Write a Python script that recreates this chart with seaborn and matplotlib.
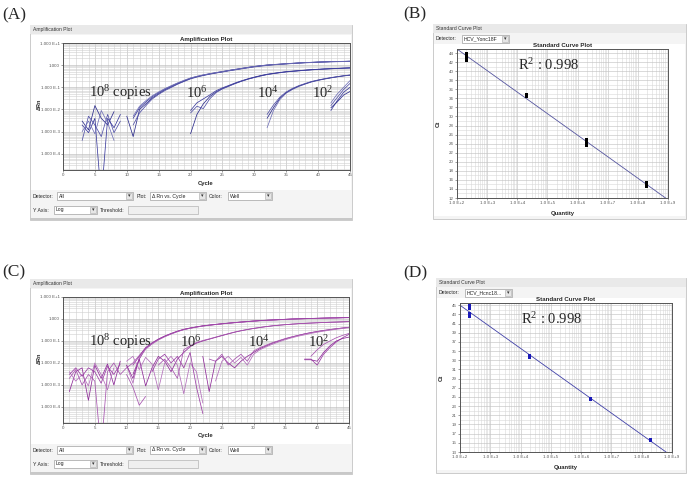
import numpy as np
import pandas as pd
import matplotlib
matplotlib.use("Agg")
import matplotlib.pyplot as plt
from matplotlib.patches import Rectangle
from matplotlib.ticker import MultipleLocator, LogLocator, NullFormatter
import seaborn as sns

nan = np.nan

# ---------------- (A) amplification plot, delta Rn per cycle ----------------
a8_r1 = [0.003, 0.0012, 0.015, 0.004, 0.002, 0.008, nan, 0.005, 0.0006, 0.01, 0.018, 0.033, 0.052, 0.078,
         0.105, 0.145, 0.19, 0.25, 0.3, 0.35, 0.4, 0.45, 0.5, 0.57, 0.63, 0.7, 0.78, 0.86, 0.93, 1.0, 1.05,
         1.1, 1.15, 1.2, 1.25, 1.3, 1.33, 1.37, 1.4, 1.43, 1.45, 1.47, 1.5]
a8_r2 = [0.0004, 0.005, 0.002, 0.0006, 0.006, 0.0009, 0.003, nan, 0.002, 0.007, 0.015, 0.03, 0.048, 0.072,
         0.1, 0.14, 0.185, 0.24, 0.29, 0.34, 0.39, 0.44, 0.49, 0.55, 0.61, 0.68, 0.75, 0.83, 0.9, 0.97, 1.03,
         1.08, 1.13, 1.18, 1.23, 1.27, 1.31, 1.35, 1.38, 1.41, 1.43, 1.45, 1.47]
a8_r3 = [0.002, 0.0009, 0.004, 1e-6, 0.004, 0.0015, 0.006, nan, 0.004, 0.012, 0.022, 0.038, 0.058, 0.085,
         0.115, 0.155, 0.2, 0.26, 0.31, 0.36, 0.41, 0.46, 0.52, 0.58, 0.65, 0.72, 0.8, 0.88, 0.95, 1.02, 1.07,
         1.12, 1.17, 1.22, 1.27, 1.31, 1.35, 1.39, 1.42, 1.45, 1.47, 1.49, 1.52]
a8_r4 = [0.001, 0.003, 0.0008, 0.009, 0.0025, 0.0004, nan, nan, 0.005, 0.014, 0.025, 0.042, 0.062, 0.088,
         0.12, 0.16, 0.21, 0.265, 0.315, 0.365, 0.415, 0.465, 0.515, 0.575, 0.64, 0.71, 0.79, 0.87, 0.94, 1.01,
         1.06, 1.11, 1.16, 1.21, 1.26, 1.3, 1.34, 1.38, 1.41, 1.44, 1.46, 1.48, 1.5]
a6_r1 = [0.0008, 0.006, 0.018, 0.038, 0.062, 0.088, 0.115, 0.15, 0.19, 0.235, 0.28, 0.33, 0.38, 0.42, 0.46,
         0.5, 0.53, 0.56, 0.59, 0.62, 0.645, 0.67, 0.69, 0.71, 0.73, 0.75]
a6_r2 = [0.007, 0.014, 0.011, 0.03, 0.058, 0.085, 0.112, 0.148, 0.188, 0.232, 0.278, 0.325, 0.375, 0.415,
         0.455, 0.495, 0.525, 0.555, 0.585, 0.615, 0.64, 0.665, 0.685, 0.705, 0.725, 0.745]
a6_r3 = [0.009, 0.02, 0.03, 0.045, 0.07, 0.095, 0.122, 0.158, 0.198, 0.243, 0.29, 0.34, 0.39, 0.43, 0.47,
         0.51, 0.54, 0.57, 0.6, 0.63, 0.655, 0.68, 0.7, 0.72, 0.74, 0.76]
a4_r1 = [0.0015, 0.009, 0.028, 0.055, 0.08, 0.11, 0.14, 0.175, 0.205, 0.235, 0.265, 0.295, 0.325, 0.35]
a4_r2 = [0.004, 0.012, 0.032, 0.058, 0.085, 0.115, 0.145, 0.18, 0.21, 0.24, 0.27, 0.3, 0.33, 0.355]
a4_r3 = [0.006, 0.016, 0.036, 0.062, 0.09, 0.12, 0.15, 0.185, 0.215, 0.245, 0.275, 0.305, 0.335, 0.36]
a2_r1 = [0.009, 0.025, 0.06, 0.1]
a2_r2 = [0.02, 0.05, 0.1, 0.2]
a2_r3 = [0.012, 0.022, 0.045, 0.065]
a2_r4 = [0.015, 0.035, 0.08, 0.15]

# (curve name, first cycle, values)
a_curves = [("a8_r1", 3, a8_r1), ("a8_r2", 3, a8_r2), ("a8_r3", 3, a8_r3), ("a8_r4", 3, a8_r4),
            ("a6_r1", 20, a6_r1), ("a6_r2", 20, a6_r2), ("a6_r3", 20, a6_r3),
            ("a4_r1", 32, a4_r1), ("a4_r2", 32, a4_r2), ("a4_r3", 32, a4_r3),
            ("a2_r1", 42, a2_r1), ("a2_r2", 42, a2_r2), ("a2_r3", 42, a2_r3), ("a2_r4", 42, a2_r4)]

# ---------------- (C) amplification plot, second assay ----------------
c8_r1 = [0.0005, 0.004, 0.006, 0.0002, 0.008, 0.002, 0.009, 0.001, 0.012, nan, 0.003, 0.015, 0.045, 0.075,
         0.115, 0.16, 0.21, 0.27, 0.33, 0.38, 0.43, 0.48, 0.52, 0.56, 0.6, 0.64, 0.68, 0.72, 0.76, 0.8, 0.84,
         0.87, 0.9, 0.93, 0.96, 0.99, 1.01, 1.03, 1.05, 1.07, 1.09, 1.11, 1.12, 1.14, 1.15]
c8_r2 = [0.002, 0.005, 0.001, 0.003, 0.0015, 1e-6, 0.004, 0.01, 0.003, 0.006, 0.01, 0.022, 0.048, 0.08, 0.12,
         0.165, 0.215, 0.275, 0.335, 0.385, 0.435, 0.485, 0.525, 0.565, 0.605, 0.645, 0.685, 0.725, 0.765,
         0.805, 0.845, 0.875, 0.905, 0.935, 0.965, 0.995, 1.015, 1.035, 1.055, 1.075, 1.095, 1.115, 1.125,
         1.145, 1.16]
c8_r3 = [0.004, 0.0015, 0.003, 0.0009, 0.01, 0.003, 0.0006, 0.006, nan, 0.008, 0.0012, 0.018, 0.042, 0.072,
         0.11, 0.155, 0.205, 0.265, 0.325, 0.375, 0.425, 0.475, 0.515, 0.555, 0.595, 0.635, 0.675, 0.715,
         0.755, 0.795, 0.835, 0.865, 0.895, 0.925, 0.955, 0.985, 1.005, 1.025, 1.045, 1.065, 1.085, 1.105,
         1.115, 1.135, 1.145]
c8_r4 = [0.003, 0.006, 0.0025, 0.006, 0.004, 0.0012, 0.007, 0.003, 0.009, nan, 0.008, 0.02, 0.05, 0.082,
         0.122, 0.168, 0.22, 0.28, 0.34, 0.39, 0.44, 0.49, 0.53, 0.57, 0.61, 0.65, 0.69, 0.73, 0.77, 0.81,
         0.85, 0.88, 0.91, 0.94, 0.97, 1.0, 1.02, 1.04, 1.06, 1.08, 1.1, 1.12, 1.13, 1.15, 1.17]
c6_r1 = [0.008, 0.002, 0.015, 0.0009, 0.006, 0.02, 0.012, 0.004, 0.015, 0.03, 0.055, 0.08, 0.1, 0.12, 0.145,
         0.175, 0.21, 0.25, 0.29, 0.33, 0.37, 0.41, 0.45, 0.49, 0.52, 0.55, 0.58, 0.61, 0.63, 0.65, 0.67,
         0.69, 0.71, 0.72, 0.74, 0.76]
c6_r2 = [0.003, 0.0008, 0.00012, 0.0003, nan, 0.008, 0.015, 0.006, 0.002, 0.04, 0.06, 0.085, 0.105, 0.125,
         0.15, 0.18, 0.215, 0.255, 0.295, 0.335, 0.375, 0.415, 0.455, 0.49, 0.525, 0.555, 0.585, 0.61,
         0.635, 0.655, 0.675, 0.695, 0.71, 0.73, 0.745, 0.765]
c6_r3 = [0.012, 0.02, 0.005, 0.018, 0.009, 0.0006, 0.01, 0.02, 0.008, 0.0004, 0.01, 0.004, 0.00015]
c6_r4 = [0.004, 0.015, 0.025, 0.01, 0.02, 0.006, 0.03, 0.0008, 0.00005]
c4_r1 = [0.02, 0.0005, 0.012, 0.02, 0.01, 0.006, 0.012, 0.02, 0.03, 0.045, 0.06, 0.08, 0.1, 0.125, 0.15,
         0.18, 0.21, 0.24, 0.27, 0.3, 0.33, 0.36, 0.39, 0.42]
c4_r2 = [0.015, 0.012, 0.025, 0.008, 0.015, 0.025, 0.012, 0.035, 0.05, 0.065, 0.085, 0.105, 0.13, 0.155,
         0.18, 0.21, 0.24, 0.27, 0.3, 0.33, 0.36, 0.39, 0.42]
c4_r3 = [0.0015, 0.012, 0.02, 0.01, 0.018, 0.008, 0.025, 0.04, 0.055, 0.072, 0.092, 0.115, 0.14, 0.165,
         0.19, 0.22, 0.25, 0.28, 0.31, 0.34, 0.37, 0.4]
c2_r1 = [0.015, 0.015, 0.008, 0.025, 0.05, 0.09, 0.14, 0.2]
c2_r2 = [0.014, 0.014, 0.012, 0.03, 0.06, 0.1, 0.13, 0.15]
c2_r3 = [0.02, 0.04, 0.07, 0.1, 0.14, 0.18, 0.22]

c_curves = [("c8_r1", 1, c8_r1), ("c8_r2", 1, c8_r2), ("c8_r3", 1, c8_r3), ("c8_r4", 1, c8_r4),
            ("c6_r1", 10, c6_r1), ("c6_r2", 10, c6_r2), ("c6_r3", 10, c6_r3), ("c6_r4", 14, c6_r4),
            ("c4_r1", 22, c4_r1), ("c4_r2", 23, c4_r2), ("c4_r3", 24, c4_r3),
            ("c2_r1", 38, c2_r1), ("c2_r2", 38, c2_r2), ("c2_r3", 39, c2_r3)]

amp_yticks = [10, 1, 0.1, 0.01, 0.001, 0.0001]
amp_ylabels = ["1.000 E+1", "1.000", "1.000 E-1", "1.000 E-2", "1.000 E-3", "1.000 E-4"]
amp_xticks = [0, 5, 10, 15, 20, 25, 30, 35, 40, 45]

# ---------------- (B) / (D) standard curves ----------------
b_qty = [2e2, 2e2, 2e2, 2e2, 2e4, 2e4, 2e4, 2e6, 2e6, 2e6, 2e6, 2e8, 2e8, 2e8]
b_ct = [42.3, 43.0, 43.6, 44.0, 34.4, 34.6, 34.9, 23.5, 23.9, 24.3, 24.8, 14.6, 15.0, 15.4]
d_qty = [2e2, 2e2, 2e2, 2e2, 2e4, 2e4, 2e4, 2e6, 2e6, 2e8, 2e8]
d_ct = [42.6, 43.3, 44.3, 45.0, 33.6, 33.9, 34.1, 24.4, 24.6, 15.6, 15.8]

std_xlim = [1e2, 1e9]
std_xticks = [1e2, 1e3, 1e4, 1e5, 1e6, 1e7, 1e8, 1e9]
std_xlabels = ["1.0 E+2", "1.0 E+3", "1.0 E+4", "1.0 E+5", "1.0 E+6", "1.0 E+7", "1.0 E+8", "1.0 E+9"]
b_yticks = list(range(12, 45, 2))
d_yticks = list(range(13, 46, 2))

# ---------------------------------------------------------------------------
W, H = 689, 479
sns.set_theme(style="white")
plt.rcParams["font.family"] = ["Liberation Sans", "DejaVu Sans"]
plt.rcParams["mathtext.fontset"] = "custom"
plt.rcParams["mathtext.rm"] = "Liberation Serif"
plt.rcParams["mathtext.it"] = "Liberation Serif:italic"
plt.rcParams["mathtext.bf"] = "Liberation Serif:bold"

fig = plt.figure(figsize=(W / 100, H / 100), dpi=100)
fig.patch.set_facecolor("white")

SERIF = "Liberation Serif"
UI = 3.7


def px_box(l, t, r, b):
    return [l / W, 1 - b / H, (r - l) / W, (b - t) / H]


def rect(l, t, r, b, fc, ec="none", lw=0.6, z=-2):
    fig.add_artist(Rectangle((l / W, 1 - b / H), (r - l) / W, (b - t) / H,
                             transform=fig.transFigure, facecolor=fc, edgecolor=ec, lw=lw, zorder=z))


def label(x, y, s, size=UI, **kw):
    fig.text(x / W, 1 - y / H, s, fontsize=size, va="center", **kw)


def dropdown(l, r, y, s):
    rect(l, y - 4, r, y + 4, "white", "#a0a0a0", 0.5)
    rect(r - 7, y - 3.3, r - 0.8, y + 3.3, "#e6e6e6", "#a8a8a8", 0.4)
    label(r - 3.9, y, "▾", size=3.6, ha="center", color="#333333")
    label(l + 1.5, y, s, color="#222222")


def to_frame(curves):
    rows, seg = [], 0
    for name, first, vals in curves:
        for i, v in enumerate(vals):
            if np.isnan(v):
                seg += 1
                continue
            rows.append((name, seg, first + i, v))
        seg += 1
    return pd.DataFrame(rows, columns=["curve", "seg", "cycle", "drn"])


def style_axes(ax):
    ax.set_xlabel("")
    ax.set_ylabel("")
    ax.set_facecolor("white")
    ax.set_axisbelow(True)
    ax.tick_params(which="major", labelsize=3.2, length=1.5, width=0.4, pad=1, colors="#555555",
                   bottom=True, left=True)
    ax.tick_params(which="minor", length=0)
    for s in ax.spines.values():
        s.set_color("#555555")
        s.set_linewidth(0.7)


def amp_window(top, curves, colors, ax_box):
    # window frame
    rect(30, top, 352, top + 195, "#f4f4f4", "#c4c4c4", 0.6)
    rect(30, top, 352, top + 9, "#e9e9e9")
    rect(31, top + 10, 351, top + 165, "white")
    label(33, top + 5, "Amplification Plot", size=3.6, color="#333333")

    ax = fig.add_axes(px_box(*ax_box))
    ax.set_yscale("log")
    df = to_frame(curves)
    pal = {name: colors[i % len(colors)] for i, (name, _, _) in enumerate(curves)}
    sns.lineplot(data=df, x="cycle", y="drn", hue="curve", units="seg", estimator=None,
                 palette=pal, linewidth=0.55, legend=False, ax=ax)
    ax.set_xlim(0, 45)
    ax.set_ylim(10 ** -4.73, 10)
    ax.set_xticks(amp_xticks, [str(v) for v in amp_xticks])
    ax.xaxis.set_minor_locator(MultipleLocator(1))
    ax.set_yticks(amp_yticks, amp_ylabels)
    ax.yaxis.set_minor_locator(LogLocator(base=10, subs=np.arange(2, 10), numticks=30))
    ax.yaxis.set_minor_formatter(NullFormatter())
    ax.grid(which="major", color="#bdbdbd", lw=0.45)
    ax.grid(which="minor", color="#d0d0d0", lw=0.4)
    style_axes(ax)
    ax.set_title("Amplification Plot", fontsize=4.4, fontweight="bold", pad=1.2)
    label(206, ax_box[3] + 13, "Cycle", size=4.2, fontweight="bold", ha="center")
    label(39, ax_box[1] + 61, "ΔRn", size=4.0, fontweight="bold", ha="center", rotation=90)

    # controls
    r1, r2 = top + 171, top + 185
    label(33, r1, "Detector:")
    dropdown(57, 133, r1, "All")
    label(137, r1, "Plot:")
    dropdown(150, 206, r1, "Δ Rn vs. Cycle")
    label(209, r1, "Color:")
    dropdown(228, 272, r1, "Well")
    label(33, r2, "Y Axis:")
    dropdown(54, 97, r2, "Log")
    label(100, r2, "Threshold:")
    rect(128, r2 - 4, 198, r2 + 4, "#efefef", "#b4b4b4", 0.5)
    rect(30, top + 193, 352, top + 195, "#c8c8c8")
    return ax


def std_window(left, top, ax_box, qty, ct, yticks, ylim, mcolor, lcolor, detector):
    rect(left, top, 686, top + 195, "#f4f4f4", "#c4c4c4", 0.6)
    rect(left, top, 686, top + 9, "#e9e9e9")
    rect(left + 1, top + 20, 685, top + 192, "white")
    label(left + 3, top + 4.5, "Standard Curve Plot", size=3.6, color="#333333")
    label(left + 3, top + 15, "Detector:")
    dropdown(left + 29, left + 76, top + 15, detector)

    ax = fig.add_axes(px_box(*ax_box))
    ax.set_xscale("log")
    logq = np.log10(qty)
    slope, icpt = np.polyfit(logq, ct, 1)
    ends = np.array(std_xlim)
    sns.lineplot(x=ends, y=icpt + slope * np.log10(ends), color=lcolor, linewidth=0.6, ax=ax)
    sns.scatterplot(x=qty, y=ct, marker="s", s=5, color=mcolor, edgecolor="none", ax=ax, zorder=3)
    ax.set_xlim(*std_xlim)
    ax.set_ylim(*ylim)
    ax.set_xticks(std_xticks, std_xlabels)
    ax.xaxis.set_minor_locator(LogLocator(base=10, subs=np.arange(2, 10), numticks=40))
    ax.xaxis.set_minor_formatter(NullFormatter())
    ax.set_yticks(yticks, [str(v) for v in yticks])
    ax.yaxis.set_minor_locator(MultipleLocator(1))
    ax.grid(which="major", color="#c4c4c4", lw=0.45)
    ax.grid(which="minor", color="#d8d8d8", lw=0.4)
    style_axes(ax)
    ax.set_title("Standard Curve Plot", fontsize=4.4, fontweight="bold", pad=1.2)
    cx = (ax_box[0] + ax_box[2]) / 2
    label(cx, ax_box[3] + 15, "Quantity", size=4.2, fontweight="bold", ha="center")
    label(left + 5, (ax_box[1] + ax_box[3]) / 2, "Ct", size=4.2, fontweight="bold", ha="center",
          rotation=90)
    label(cx - 45, ax_box[1] + 16,
          r"$\mathrm{R^2}$ : 0.998", size=10.5, family=SERIF)
    return ax


blue = ["#2c2c8c", "#5252a8", "#3a3a9c", "#7272b8"]
purple = ["#8e2a98", "#a653ae", "#b36fbb", "#9a3da4"]

amp_window(25, a_curves, blue, (63, 43, 350, 170))
amp_window(279, c_curves, purple, (63, 297, 349, 423))
std_window(433, 24, (457, 49, 668, 198), b_qty, b_ct, b_yticks, (12, 44.9), "black", "#55559f",
           "HCV_Yonc18F")
std_window(436, 278, (460, 303, 672, 452), d_qty, d_ct, d_yticks, (13, 45.5), "#1a1ab8", "#4040a8",
           "HCV_Hcnc18...")

# copy-number annotations
for dy in (0, 249):
    label(89, 93 + dy, r"$\mathrm{10^{8}}$ copies", size=10.5, family=SERIF)
for x, txt in ((186, r"$\mathrm{10^{6}}$"), (257, r"$\mathrm{10^{4}}$"), (312, r"$\mathrm{10^{2}}$")):
    label(x, 93, txt, size=10.5, family=SERIF)
for x, txt in ((180, r"$\mathrm{10^{6}}$"), (248, r"$\mathrm{10^{4}}$"), (308, r"$\mathrm{10^{2}}$")):
    label(x, 342, txt, size=10.5, family=SERIF)

# panel letters
label(2, 15, "(A)", size=12.5, family=SERIF)
label(403, 14, "(B)", size=12.5, family=SERIF)
label(2, 272, "(C)", size=12.5, family=SERIF)
label(403, 273, "(D)", size=12.5, family=SERIF)

fig.savefig("out.png", dpi=100)
